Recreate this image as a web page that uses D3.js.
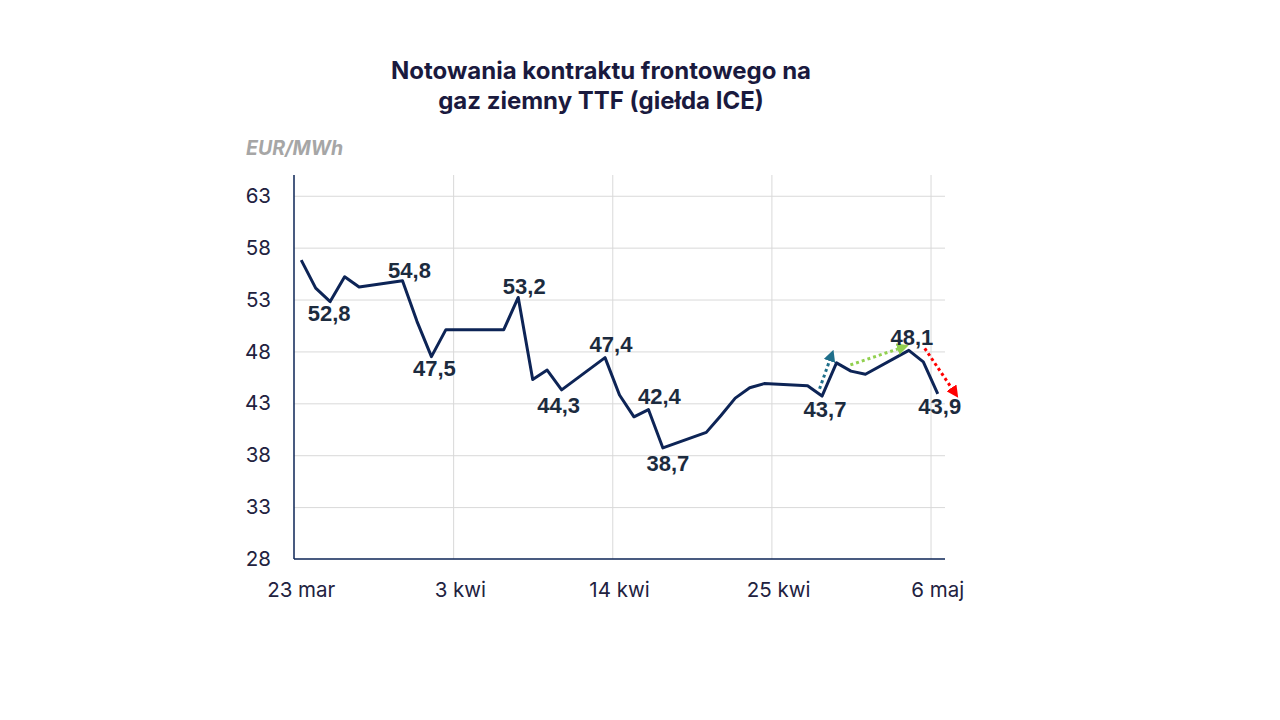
<!DOCTYPE html>
<html>
<head>
<meta charset="utf-8">
<script src="https://cdn.jsdelivr.net/npm/d3@7"></script>
<style>
  body { margin: 0; background: #ffffff; }
  #chart { width: 1280px; height: 720px; }
  .grid line { stroke: #d9d9d9; stroke-width: 1; }
  .grid path { display: none; }
  .tick-label { font-family: Inter, "Liberation Sans", Arial, sans-serif; font-size: 20.5px; fill: #22223f; }
  .value-label { font-family: "Liberation Sans", Arial, sans-serif; font-size: 22px; font-weight: bold; fill: #1c2b3e; }
</style>
</head>
<body>
<div id="chart"></div>
<script>
// -- data --
var start_date = "2026-03-23";
var end_date = "2026-05-07";

// trading days, counted from start_date
var day_offsets = [0, 1, 2, 3, 4, 7, 8, 9, 10, 14, 15, 16, 17, 18, 21, 22, 23, 24, 25,
                   28, 29, 30, 31, 32, 35, 36, 37, 38, 39, 42, 43, 44];
var prices = [56.8, 54.1, 52.8, 55.2, 54.2, 54.8, 50.9, 47.5, 50.1, 50.1, 53.2, 45.3, 46.2, 44.3,
              47.4, 43.8, 41.7, 42.4, 38.7, 40.2, 41.8, 43.5, 44.5, 44.9, 44.7, 43.7, 46.9,
              46.1, 45.8, 48.1, 47.0, 43.9];

var y_ticks = [28, 33, 38, 43, 48, 53, 58, 63];
var y_max = 65;
var x_tick_offsets = [0, 11, 22, 33, 44];
var x_tick_labels = ["23 mar", "3 kwi", "14 kwi", "25 kwi", "6 maj"];

// labelled points: index into prices, placement offset
var labels = [
  { i: 2,  dx: -1, dy: 19 },
  { i: 5,  dx: 7,  dy: -3 },
  { i: 7,  dx: 3,  dy: 19 },
  { i: 10, dx: 6,  dy: -3 },
  { i: 13, dx: -3, dy: 23 },
  { i: 14, dx: 6,  dy: -6 },
  { i: 17, dx: 11, dy: -6 },
  { i: 18, dx: 5,  dy: 23 },
  { i: 25, dx: 3,  dy: 21 },
  { i: 29, dx: 3,  dy: -5 },
  { i: 31, dx: 2,  dy: 20 }
];

// dotted trend arrows, in (day, price) units
var arrows = [
  { x0: 36.33, y0: 44.4, x1: 37.07, y1: 47.3, color: "#1f6f8b" },
  { x0: 38.46, y0: 46.7, x1: 41.87, y1: 48.3, color: "#92d050" },
  { x0: 43.6,  y0: 48.3, x1: 45.54, y1: 44.3, color: "#ff0000" }
];

var day_ms = 24 * 3600 * 1000;
var parse = d3.timeParse("%Y-%m-%d");
var t0 = parse(start_date);
function dayToDate(o) { return new Date(t0.getTime() + o * day_ms); }

var data = [];
for (var i = 0; i < prices.length; i++) {
  data.push({ date: dayToDate(day_offsets[i]), value: prices[i] });
}

// == d3.js boilerplate ==
var margin = { top: 175, right: 335, bottom: 161, left: 294 };
var width = 1280 - margin.left - margin.right,
    height = 720 - margin.top - margin.bottom;

var root = d3.select("#chart")
  .append("svg")
  .attr("width", 1280)
  .attr("height", 720);

// -- title --
var title = root.append("text")
  .attr("text-anchor", "middle")
  .style("font-family", "Inter, 'Liberation Sans', sans-serif")
  .style("font-weight", "bold")
  .style("font-size", "24px")
  .style("fill", "#1a1a3e");
title.append("tspan").attr("x", 601).attr("y", 79).text("Notowania kontraktu frontowego na");
title.append("tspan").attr("x", 601).attr("y", 109).text("gaz ziemny TTF (giełda ICE)");

root.append("text")
  .attr("x", 246)
  .attr("y", 155)
  .style("font-family", "Inter, 'Liberation Sans', sans-serif")
  .style("font-weight", "bold")
  .style("font-style", "italic")
  .style("font-size", "19.5px")
  .style("fill", "#a6a6a6")
  .text("EUR/MWh");

var svg = root.append("g")
  .attr("transform", "translate(" + margin.left + "," + margin.top + ")");

// == scales ==
var x = d3.scaleTime()
  .domain([parse(start_date), parse(end_date)])
  .range([0, width]);

var y = d3.scaleLinear()
  .domain([28, y_max])
  .range([height, 0]);

// points sit in the middle of their day slot
function xMid(d) { return x(new Date(d.getTime() + day_ms / 2)); }

// -- grid lines --
var x_dates = x_tick_offsets.map(dayToDate);

svg.append("g")
  .attr("class", "grid")
  .call(d3.axisBottom(x).tickValues(x_dates.slice(1)).tickSize(height).tickFormat(""));

svg.append("g")
  .attr("class", "grid")
  .call(d3.axisLeft(y).tickValues(y_ticks.slice(1)).tickSize(-width).tickFormat(""));

// -- axis lines --
svg.append("line")
  .attr("x1", 0).attr("x2", 0)
  .attr("y1", 0).attr("y2", height)
  .attr("stroke", "#0d2456").attr("stroke-width", 1.5);

svg.append("line")
  .attr("x1", 0).attr("x2", width)
  .attr("y1", height).attr("y2", height)
  .attr("stroke", "#0d2456").attr("stroke-width", 1.5);

// -- tick labels --
svg.selectAll(".ylab")
  .data(y_ticks)
  .enter()
  .append("text")
  .attr("class", "tick-label")
  .attr("text-anchor", "end")
  .attr("x", -23)
  .attr("y", function (d) { return y(d); })
  .attr("dy", "0.35em")
  .text(function (d) { return d; });

svg.selectAll(".xlab")
  .data(x_dates)
  .enter()
  .append("text")
  .attr("class", "tick-label")
  .attr("text-anchor", "middle")
  .attr("x", function (d) { return xMid(d); })
  .attr("y", height + 38)
  .text(function (d, i) { return x_tick_labels[i]; });

// == line ==
var line = d3.line()
  .x(function (d) { return xMid(d.date); })
  .y(function (d) { return y(d.value); });

svg.append("path")
  .datum(data)
  .attr("fill", "none")
  .attr("stroke", "#0d2456")
  .attr("stroke-width", 3)
  .attr("stroke-linejoin", "round")
  .attr("d", line);

// == arrows ==
var defs = root.append("defs");
arrows.forEach(function (a, k) {
  defs.append("marker")
    .attr("id", "head" + k)
    .attr("viewBox", "0 0 10 10")
    .attr("refX", 2).attr("refY", 5)
    .attr("markerWidth", 4).attr("markerHeight", 4)
    .attr("orient", "auto")
    .append("path")
    .attr("d", "M0,0 L10,5 L0,10 Z")
    .attr("fill", a.color);
});

svg.selectAll(".arrow")
  .data(arrows)
  .enter()
  .append("line")
  .attr("x1", function (d) { return x(dayToDate(d.x0)); })
  .attr("y1", function (d) { return y(d.y0); })
  .attr("x2", function (d) { return x(dayToDate(d.x1)); })
  .attr("y2", function (d) { return y(d.y1); })
  .attr("stroke", function (d) { return d.color; })
  .attr("stroke-width", 3)
  .attr("stroke-dasharray", "3,3")
  .attr("marker-end", function (d, k) { return "url(#head" + k + ")"; });

// == value labels ==
svg.selectAll(".value-label")
  .data(labels)
  .enter()
  .append("text")
  .attr("class", "value-label")
  .attr("text-anchor", "middle")
  .attr("x", function (d) { return xMid(data[d.i].date) + d.dx; })
  .attr("y", function (d) { return y(data[d.i].value) + d.dy; })
  .text(function (d) { return d3.format(".1f")(data[d.i].value).replace(".", ","); });
</script>
</body>
</html>
